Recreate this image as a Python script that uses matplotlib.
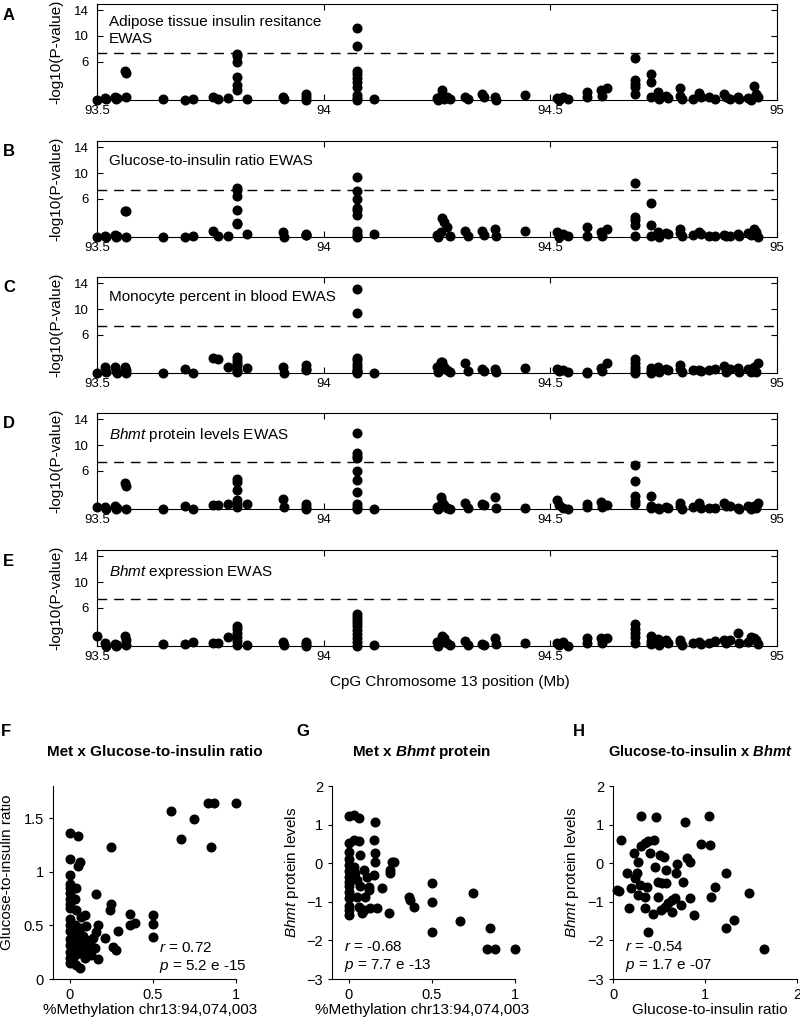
import matplotlib
matplotlib.use("Agg")
import matplotlib.pyplot as plt

plt.rcParams["font.family"] = ["Liberation Sans", "DejaVu Sans"]
plt.rcParams["mathtext.fontset"] = "custom"
plt.rcParams["mathtext.rm"] = "Liberation Sans"
plt.rcParams["mathtext.it"] = "Liberation Sans:italic"
plt.rcParams["mathtext.bf"] = "Liberation Sans:style=italic:weight=bold"

# ---- EWAS data: CpG positions (Mb) and -log10(P) per trait ----
cpg_pos = [
    93.501, 93.517, 93.519, 93.539, 93.541, 93.544, 93.561, 93.563, 93.565,
    93.646, 93.695, 93.712, 93.756, 93.767, 93.789,
    93.808, 93.808, 93.808, 93.808, 93.808, 93.808,
    93.831, 93.911, 93.913, 93.960, 93.961, 93.962,
    94.073, 94.073, 94.073, 94.073, 94.073, 94.073, 94.073, 94.073, 94.073, 94.073,
    94.111,
    94.249, 94.252, 94.258, 94.262, 94.266, 94.271, 94.278,
    94.312, 94.318, 94.350, 94.353, 94.377, 94.380, 94.444,
    94.514, 94.520, 94.528, 94.538,
    94.580, 94.581, 94.612, 94.614, 94.624,
    94.687, 94.687, 94.687, 94.687, 94.687,
    94.721, 94.721, 94.721,
    94.737, 94.740, 94.756, 94.759, 94.785, 94.787, 94.791,
    94.815, 94.829, 94.832, 94.851, 94.863, 94.884, 94.887, 94.896, 94.913, 94.916,
    94.935, 94.943, 94.950, 94.954, 94.958,
]

logp_adipose_ir = [
    0.0, 0.3, 0.1, 0.5, 0.1, 0.3, 4.6, 4.2, 0.4,
    0.1, 0.0, 0.2, 0.4, 0.1, 0.3,
    7.2, 6.9, 5.9, 3.6, 2.3, 1.6,
    0.2, 0.5, 0.1, 1.0, 0.4, 0.0,
    11.2, 8.5, 4.5, 4.0, 3.4, 2.8, 2.0, 0.8, 0.3, 0.0,
    0.1,
    0.3, 0.0, 0.7, 1.5, 0.2, 0.4, 0.1,
    0.5, 0.2, 0.9, 0.5, 0.4, 0.0, 0.8,
    0.3, 0.0, 0.4, 0.1,
    1.2, 0.5, 1.6, 0.7, 1.8,
    6.6, 3.1, 2.5, 2.0, 1.0,
    4.0, 2.8, 0.4,
    1.3, 0.2, 0.7, 0.3, 1.8, 0.7, 0.2,
    0.1, 1.1, 0.4, 0.4, 0.1, 1.0, 0.4, 0.1, 0.5, 0.1,
    0.3, 0.0, 2.2, 1.0, 0.4,
]

logp_glucose_insulin = [
    0.0, 0.2, 0.0, 0.3, 0.0, 0.1, 4.1, 4.0, 0.0,
    0.0, 0.0, 0.1, 0.9, 0.1, 0.1,
    7.7, 7.3, 6.4, 4.2, 2.2, 2.0,
    0.4, 0.8, 0.0, 0.4, 0.3, 0.3,
    9.3, 7.2, 6.0, 4.6, 4.2, 3.5, 1.0, 0.5, 0.2, 0.0,
    0.4,
    0.3, 0.0, 0.8, 3.0, 2.4, 1.6, 0.1,
    0.9, 0.1, 0.9, 0.3, 1.2, 0.2, 1.0,
    0.8, 0.0, 0.4, 0.1,
    1.5, 0.2, 0.8, 0.2, 1.3,
    8.4, 3.2, 2.6, 1.9, 0.1,
    5.3, 1.9, 0.2,
    0.8, 0.0, 0.6, 0.5, 1.3, 0.6, 0.1,
    0.3, 0.8, 0.4, 0.2, 0.1, 0.3, 0.1, 0.1, 0.4, 0.1,
    0.7, 0.3, 1.2, 0.8, 0.0,
]

logp_monocyte = [
    0.0, 0.9, 0.2, 1.0, 0.3, 0.0, 1.0, 0.5, 0.0,
    0.0, 0.6, 0.0, 2.3, 2.2, 0.9,
    2.5, 2.1, 1.5, 1.3, 0.3, 0.2,
    0.8, 1.0, 0.0, 1.2, 0.7, 0.5,
    13.2, 9.3, 2.4, 2.0, 1.4, 0.9, 0.5, 0.3, 0.1, 0.0,
    0.0,
    1.0, 0.2, 1.7, 1.7, 1.0, 0.4, 0.1,
    1.5, 0.3, 0.6, 0.3, 0.6, 0.2, 0.8,
    0.7, 0.3, 0.5, 0.1,
    0.1, 0.0, 0.8, 0.3, 1.5,
    2.2, 1.6, 1.0, 0.4, 0.0,
    0.8, 0.3, 0.0,
    0.9, 0.1, 0.6, 0.4, 1.2, 0.6, 0.1,
    0.5, 0.5, 0.3, 0.4, 0.7, 1.1, 0.2, 0.7, 0.8, 0.2,
    0.6, 0.2, 0.9, 0.1, 1.5,
]

logp_bhmt_protein = [
    0.3, 0.3, 0.0, 0.5, 0.0, 0.2, 4.1, 3.6, 0.0,
    0.0, 0.4, 0.0, 0.7, 0.7, 0.8,
    4.7, 4.2, 3.0, 1.4, 0.8, 0.3,
    0.8, 1.5, 0.3, 0.8, 0.3, 0.0,
    11.8, 8.7, 8.3, 7.9, 6.0, 4.6, 2.6, 0.8, 0.3, 0.0,
    0.0,
    0.3, 0.0, 1.8, 1.1, 0.6, 0.2, 0.0,
    1.0, 0.2, 0.8, 0.6, 1.9, 0.2, 0.1,
    1.4, 0.7, 0.2, 0.0,
    0.8, 0.3, 1.1, 0.3, 0.6,
    6.8, 4.3, 2.1, 1.2, 0.8,
    2.0, 0.4, 0.1,
    0.1, 0.0, 0.3, 0.2, 1.0, 0.5, 0.0,
    0.3, 1.0, 0.2, 0.1, 0.2, 0.9, 0.4, 0.4, 0.2, 0.0,
    0.4, 0.0, 0.5, 0.2, 1.0,
]

logp_bhmt_expr = [
    1.6, 0.5, 0.0, 0.3, 0.0, 0.1, 1.6, 0.9, 0.2,
    0.3, 0.3, 0.6, 0.5, 0.4, 1.4,
    3.2, 2.6, 2.0, 1.4, 0.8, 0.2,
    0.2, 0.6, 0.1, 0.6, 0.3, 0.0,
    5.0, 4.6, 4.1, 3.6, 3.1, 2.5, 1.9, 1.3, 0.6, 0.0,
    0.2,
    0.6, 0.0, 1.0, 1.6, 1.3, 0.5, 0.1,
    0.8, 0.2, 0.3, 0.1, 1.3, 0.3, 0.4,
    0.5, 0.2, 0.6, 0.0,
    1.2, 0.4, 1.3, 0.5, 1.2,
    3.4, 2.6, 2.0, 1.4, 0.5,
    1.6, 0.8, 0.3,
    1.1, 0.2, 0.9, 0.4, 1.0, 0.6, 0.2,
    0.5, 0.7, 0.3, 0.5, 0.8, 0.9, 0.4, 0.9, 2.0, 0.4,
    0.6, 1.4, 1.3, 0.9, 0.3,
]

ewas_titles = [
    "Adipose tissue insulin resitance\nEWAS",
    "Glucose-to-insulin ratio EWAS",
    "Monocyte percent in blood EWAS",
    r"$\mathit{Bhmt}$ protein levels EWAS",
    r"$\mathit{Bhmt}$ expression EWAS",
]
ewas_letters = ["A", "B", "C", "D", "E"]
ewas_values = [logp_adipose_ir, logp_glucose_insulin, logp_monocyte,
               logp_bhmt_protein, logp_bhmt_expr]
sig_line = 7.3

# ---- scatter data ----
met_f = [0.0, 0.05, 0.0, 0.06, 0.05, 0.0, 0.0, 0.0, 0.04, 0.0, 0.0, 0.03, 0.0, 0.0,
         0.04, 0.07, 0.09, 0.0, 0.0, 0.03, 0.06, 0.1, 0.0, 0.02, 0.05, 0.08, 0.0,
         0.03, 0.06, 0.1, 0.12, 0.0, 0.02, 0.05, 0.08, 0.11, 0.0, 0.03, 0.06, 0.09,
         0.13, 0.0, 0.02, 0.04, 0.06, 0.0, 0.16, 0.17, 0.16, 0.15, 0.17, 0.14, 0.21,
         0.24, 0.25, 0.25, 0.26, 0.28, 0.29, 0.36, 0.36, 0.39, 0.5, 0.5, 0.5, 0.61,
         0.67, 0.75, 0.83, 0.87, 0.85, 1.0]
gir_f = [1.36, 1.33, 1.12, 1.09, 1.05, 0.97, 0.89, 0.85, 0.85, 0.80, 0.75, 0.75, 0.70,
         0.66, 0.64, 0.58, 0.60, 0.56, 0.50, 0.50, 0.48, 0.49, 0.45, 0.42, 0.40, 0.40,
         0.37, 0.35, 0.33, 0.36, 0.33, 0.32, 0.29, 0.28, 0.30, 0.27, 0.25, 0.22, 0.24,
         0.20, 0.22, 0.20, 0.16, 0.13, 0.10, 0.15, 0.79, 0.50, 0.44, 0.29, 0.19, 0.38,
         0.38, 0.64, 0.70, 1.23, 0.30, 0.27, 0.45, 0.61, 0.50, 0.52, 0.60, 0.51, 0.39,
         1.57, 1.31, 1.49, 1.64, 1.64, 1.23, 1.64]

met_g = [0.0, 0.03, 0.06, 0.16, 0.0, 0.03, 0.06, 0.07, 0.15, 0.16, 0.16, 0.26, 0.27,
         0.25, 0.25, 0.0, 0.0, 0.0, 0.0, 0.0, 0.0, 0.0, 0.0, 0.0, 0.0, 0.0, 0.0,
         0.03, 0.04, 0.09, 0.05, 0.07, 0.05, 0.06, 0.09, 0.08, 0.11, 0.12, 0.1, 0.13,
         0.15, 0.12, 0.17, 0.2, 0.24, 0.36, 0.37, 0.39, 0.5, 0.5, 0.5, 0.67, 0.75,
         0.85, 0.83, 0.88, 1.0]
bhmt_g = [1.22, 1.26, 1.17, 1.07, 0.52, 0.61, 0.57, 0.22, 0.61, 0.26, 0.04, 0.04, 0.04,
          -0.17, -0.26, 0.3, 0.1, -0.05, -0.2, -0.35, -0.5, -0.6, -0.75, -0.9, -1.1,
          -1.2, -1.35, -0.09, -0.26, -0.17, -0.43, -0.6, -0.87, -1.13, -1.22, -1.3,
          -0.36, -0.7, -0.87, -1.17, -0.3, -0.61, -1.17, -0.65, -1.29, -0.87, -0.96,
          -1.13, -0.52, -1.0, -1.78, -1.5, -0.78, -1.67, -2.22, -2.22, -2.22]

gir_h = [0.09, 0.04, 0.07, 0.15, 0.17, 0.23, 0.2, 0.24, 0.27, 0.26, 0.29, 0.27, 0.3,
         0.3, 0.35, 0.37, 0.35, 0.35, 0.38, 0.4, 0.38, 0.43, 0.45, 0.46, 0.47, 0.49,
         0.49, 0.51, 0.53, 0.52, 0.55, 0.56, 0.58, 0.58, 0.6, 0.64, 0.64, 0.67, 0.69,
         0.7, 0.76, 0.74, 0.78, 0.8, 0.84, 0.84, 0.88, 0.96, 1.04, 1.05, 1.07, 1.11,
         1.23, 1.23, 1.31, 1.48, 1.64]
bhmt_h = [0.61, -0.7, -0.71, -0.26, -1.17, 0.26, -0.65, -0.39, 0.04, -0.26, -0.57,
          -0.83, 1.22, 0.45, 0.52, -0.61, -0.87, -1.17, 0.57, 0.26, -1.78, -1.32, 0.61,
          -0.11, 1.19, -0.87, -0.5, 0.22, -0.52, -1.2, 0.17, -1.13, -0.52, -0.17, -1.04,
          -0.96, -1.26, -0.89, -0.26, -0.02, -0.48, -1.09, 1.07, 0.13, 0.02, -0.89,
          -1.35, 0.5, 1.23, 0.48, -0.87, -0.61, -0.26, -1.67, -1.48, -0.77, -2.22]

W, H = 800, 1022
fig = plt.figure(figsize=(W / 100, H / 100), dpi=100)


def px_axes(left, top, width, height):
    return fig.add_axes([left / W, 1 - (top + height) / H, width / W, height / H])


def fig_text(x, y, s, **kw):
    fig.text(x / W, 1 - y / H, s, **kw)


# ---- Manhattan-style panels A-E ----
ewas_tops = [4, 141, 277, 413, 550]
for top, letter, title, vals in zip(ewas_tops, ewas_letters, ewas_titles, ewas_values):
    ax = px_axes(97, top, 680, 96)
    ax.axhline(sig_line, color="black", lw=1.0, dashes=(7, 5), zorder=2)
    ax.plot(cpg_pos, vals, "o", color="black", ms=6.2, clip_on=False, zorder=3)
    ax.set_xlim(93.5, 95)
    ax.set_ylim(0, 15)
    ax.set_xticks([93.5, 94, 94.5, 95])
    ax.set_xticklabels(["93.5", "94", "94.5", "95"])
    ax.set_yticks([6, 10, 14])
    ax.set_yticklabels(["6", "10", "14"])
    ax.tick_params(direction="in", top=True, right=True, length=4, width=0.8,
                   labelsize=9.5)
    ax.tick_params(axis="y", pad=6)
    for sp in ax.spines.values():
        sp.set_linewidth(0.8)
    ytxt = 0.885 if letter == "A" else 0.865
    ax.text(0.017, ytxt, title, transform=ax.transAxes, fontsize=11, va="top",
            ha="left", linespacing=1.3)
    fig_text(3, top + 11, letter, fontsize=12, fontweight="bold", ha="left", va="center")
    fig_text(56, top + 48, "-log10(P-value)", fontsize=11, rotation=90,
             ha="center", va="center")

fig_text(450, 682, "CpG Chromosome 13 position (Mb)", fontsize=11, ha="center",
         va="center")

# ---- scatter panels F-H ----
scatter_specs = [
    dict(left=53, width=183, x=met_f, y=gir_f, xlim=(-0.1, 1.0), ylim=(0, 1.8),
         xticks=[0, 0.5, 1], xtl=["0", "0.5", "1"],
         yticks=[0, 0.5, 1, 1.5], ytl=["0", "0.5", "1", "1.5"],
         letter="F", lx=1, title="Met x Glucose-to-insulin ratio", tx=155,
         xlabel="%Methylation chr13:94,074,003", xlx=150,
         ylabel="Glucose-to-insulin ratio", ylx=7,
         r_txt=r"$\mathit{r}$ = 0.72", p_txt=r"$\mathit{p}$ = 5.2 e -15",
         ann_x=0.54, ann_y=(0.29, 0.12)),
    dict(left=332, width=183, x=met_g, y=bhmt_g, xlim=(-0.1, 1.0), ylim=(-3, 2),
         xticks=[0, 0.5, 1], xtl=["0", "0.5", "1"],
         yticks=[-3, -2, -1, 0, 1, 2], ytl=["\u22123", "\u22122", "\u22121", "0", "1", "2"],
         letter="G", lx=296, title=r"Met x $\mathbf{Bhmt}$ protein", tx=422,
         xlabel="%Methylation chr13:94,074,003", xlx=422,
         ylabel=r"$\mathit{Bhmt}$ protein levels", ylx=292,
         r_txt=r"$\mathit{r}$ = -0.68", p_txt=r"$\mathit{p}$ = 7.7 e -13",
         ann_x=-0.03, ann_y=(-2.17, -2.65)),
    dict(left=613, width=184, x=gir_h, y=bhmt_h, xlim=(0, 2), ylim=(-3, 2),
         xticks=[0, 1, 2], xtl=["0", "1", "2"],
         yticks=[-3, -2, -1, 0, 1, 2], ytl=["\u22123", "\u22122", "\u22121", "0", "1", "2"],
         letter="H", lx=573, title=r"Glucose-to-insulin x $\mathbf{Bhmt}$", tx=700,
         xlabel="Glucose-to-insulin ratio", xlx=710,
         ylabel=r"$\mathit{Bhmt}$ protein levels", ylx=572,
         r_txt=r"$\mathit{r}$ = -0.54", p_txt=r"$\mathit{p}$ = 1.7 e -07",
         ann_x=0.13, ann_y=(-2.17, -2.65)),
]

for spec in scatter_specs:
    ax = px_axes(spec["left"], 786, spec["width"], 193)
    ax.plot(spec["x"], spec["y"], "o", color="black", ms=6.2, clip_on=False)
    ax.set_xlim(*spec["xlim"])
    ax.set_ylim(*spec["ylim"])
    ax.set_xticks(spec["xticks"])
    ax.set_xticklabels(spec["xtl"])
    ax.set_yticks(spec["yticks"])
    ax.set_yticklabels(spec["ytl"])
    ax.spines["top"].set_visible(False)
    ax.spines["right"].set_visible(False)
    for sp in ("left", "bottom"):
        ax.spines[sp].set_linewidth(0.8)
    ax.tick_params(direction="out", length=3, width=0.8, labelsize=10.5)
    ax.text(spec["ann_x"], spec["ann_y"][0], spec["r_txt"], fontsize=11, va="center")
    ax.text(spec["ann_x"], spec["ann_y"][1], spec["p_txt"], fontsize=11, va="center")
    fig_text(spec["lx"], 731, spec["letter"], fontsize=12, fontweight="bold",
             ha="left", va="center")
    title_size = 10.5 if spec["letter"] == "H" else 11
    fig_text(spec["tx"], 752, spec["title"], fontsize=title_size, fontweight="bold",
             ha="center", va="center")
    fig_text(spec["xlx"], 1010, spec["xlabel"], fontsize=11, ha="center", va="center")
    fig_text(spec["ylx"], 872, spec["ylabel"], fontsize=11, rotation=90,
             ha="center", va="center")

fig.savefig("out.png", dpi=100)
